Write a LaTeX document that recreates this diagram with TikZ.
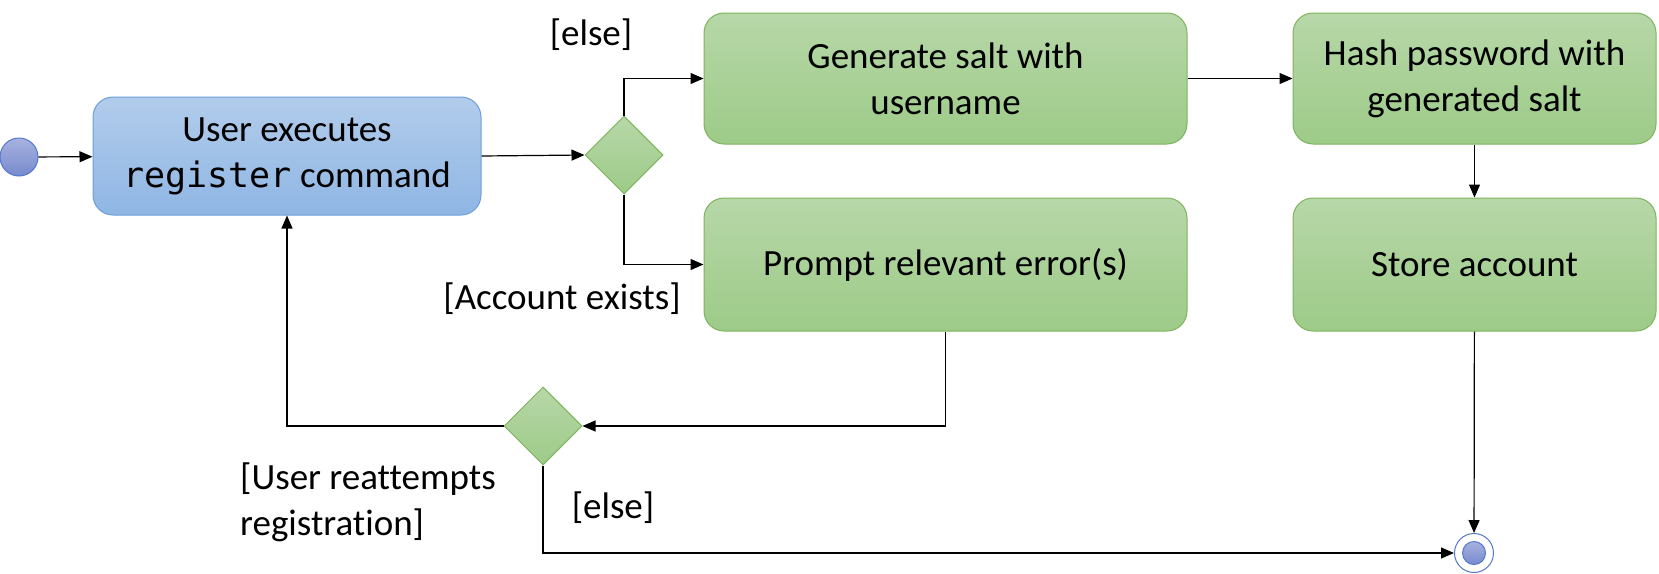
\documentclass[tikz,border=0pt]{standalone}
\usepackage{fontspec}
\setmainfont{Carlito}[Ligatures=NoCommon]
\newfontfamily\codefont{DejaVu Sans Mono}
\usetikzlibrary{shapes.geometric,arrows.meta}
\definecolor{bluetop}{RGB}{178,204,235}
\definecolor{bluebot}{RGB}{143,182,228}
\definecolor{blueline}{RGB}{108,158,218}
\definecolor{greentop}{RGB}{183,215,168}
\definecolor{greenbot}{RGB}{157,203,136}
\definecolor{greenline}{RGB}{126,180,94}
\definecolor{dottop}{RGB}{168,178,224}
\definecolor{dotbot}{RGB}{118,138,204}
\definecolor{dotline}{RGB}{84,120,205}
\begin{document}
\begin{tikzpicture}[x=1pt,y=-1pt,
	act/.style={rectangle,rounded corners=20pt,draw=greenline,line width=1pt,top color=greentop,bottom color=greenbot,align=center,inner sep=0pt,font=\fontsize{37}{46}\selectfont},
	choice/.style={diamond,aspect=1,draw=greenline,line width=1pt,top color=greentop,bottom color=greenbot,minimum width=78pt,minimum height=78pt,inner sep=0pt},
	dot/.style={circle,draw=dotline,line width=1pt,top color=dottop,bottom color=dotbot,inner sep=0pt},
	guard/.style={font=\fontsize{37}{46}\selectfont,inner sep=0pt},
	flow/.style={-{Triangle[length=13pt,width=11pt]},line width=1.2pt}]
	\useasboundingbox (0,0) rectangle (1659,573);

	\node[dot,minimum size=38pt] at (19,157) (start) {};
	\node[act,draw=blueline,top color=bluetop,bottom color=bluebot,minimum width=388pt,minimum height=118pt] at (287,156) (user) {User executes\\{\fontsize{35}{46}\codefont register} command};
	\node[choice] at (624,155) (d1) {};
	\node[act,minimum width=483pt,minimum height=131pt] at (945.5,78.5) (gen) {Generate salt with\\username};
	\node[act,minimum width=483pt,minimum height=133pt] at (945.5,264.5) (prompt) {Prompt relevant error(s)};
	\node[act,minimum width=363pt,minimum height=131pt] at (1474.5,78.5) (hash) {Hash password with\\generated salt};
	\node[act,minimum width=363pt,minimum height=133pt] at (1474.5,264.5) (store) {Store account};
	\node[choice] at (543,426) (d2) {};
	\node[circle,draw=dotline,line width=1pt,fill=white,minimum size=39pt,inner sep=0pt] at (1474,553) (final) {};
	\node[dot,minimum size=23pt] at (final) (finaldot) {};

	\draw[flow] (start) -- (user);
	\draw[flow] (user.east) -- (d1.west);
	\draw[flow] (d1.north) |- (gen.west);
	\draw[flow] (d1.south) |- (prompt.west);
	\draw[flow] (gen) -- (hash);
	\draw[flow] (hash) -- (store);
	\draw[flow] (store) -- (final);
	\draw[flow] (prompt.south) |- (d2.east);
	\draw[flow] (d2.west) -| (user.south);
	\draw[flow] (d2.south) |- (final.west);

	\node[guard] at (591,35) (elsegen) {[else]};
	\node[guard] at (562,299) (exists) {[Account exists]};
	\node[guard,anchor=west,align=left] at (240,502) (retry) {[User reattempts\\registration]};
	\node[guard] at (613,508) (elsedone) {[else]};
\end{tikzpicture}
\end{document}
